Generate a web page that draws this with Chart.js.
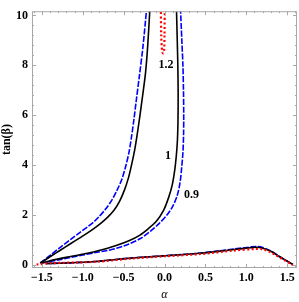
<!DOCTYPE html>
<html lang="en">
  <head>
    <meta charset="UTF-8" />
    <title>tan(beta) vs alpha</title>
    <script src="https://cdn.jsdelivr.net/npm/chart.js"></script>
    <style>
      html, body { margin: 0; padding: 0; background: #fff; }
      #wrap { width: 299px; height: 302px; }
    </style>
  </head>
  <body>
    <div id="wrap"><canvas id="plot"></canvas></div>
    <script>
      // tick labels
      const xTicks = [-1.5, -1, -0.5, 0, 0.5, 1, 1.5];
      const yTicks = [0, 2, 4, 6, 8, 10];

      // curves (alpha, tan beta)
      const blueUpperX = [-1.52, -1.45, -1.39, -1.27, -1.15, -1.04, -0.94, -0.86, -0.8, -0.72, -0.64, -0.58, -0.52, -0.475, -0.435, -0.405, -0.375, -0.345, -0.31, -0.265, -0.217];
      const blueUpperY = [0.08, 0.25, 0.41, 0.72, 1.02, 1.29, 1.53, 1.74, 1.94, 2.24, 2.62, 3.0, 3.45, 3.95, 4.5, 5.1, 5.8, 6.6, 7.5, 8.7, 10.3];
      const blackUpperX = [-1.52, -1.45, -1.39, -1.27, -1.15, -1.04, -0.94, -0.86, -0.78, -0.7, -0.62, -0.55, -0.49, -0.44, -0.4, -0.365, -0.335, -0.3, -0.265, -0.232, -0.205, -0.178];
      const blackUpperY = [0.08, 0.22, 0.35, 0.6, 0.85, 1.08, 1.29, 1.47, 1.67, 1.9, 2.18, 2.55, 3.0, 3.5, 4.05, 4.6, 5.2, 6.0, 6.85, 7.7, 8.8, 10.3];

      const blackRightX = [-1.5, -1.39, -1.15, -0.94, -0.8, -0.6, -0.435, -0.3, -0.2, -0.1, -0.01, 0.05, 0.094, 0.125, 0.145, 0.158, 0.165, 0.167, 0.163, 0.156, 0.146];
      const blackRightY = [0.08, 0.18, 0.34, 0.47, 0.58, 0.77, 0.97, 1.2, 1.45, 1.75, 2.2, 2.7, 3.2, 3.8, 4.4, 5.0, 5.8, 6.8, 8.0, 9.0, 10.3];
      const blueRightX = [-1.5, -1.3, -1.15, -1.0, -0.84, -0.7, -0.6, -0.5, -0.435, -0.3, -0.17, -0.07, 0.03, 0.1, 0.155, 0.19, 0.21, 0.225, 0.233, 0.235, 0.232, 0.225, 0.212, 0.195];
      const blueRightY = [0.08, 0.2, 0.3, 0.4, 0.5, 0.58, 0.66, 0.76, 0.84, 1.05, 1.36, 1.65, 2.0, 2.35, 2.78, 3.3, 3.9, 4.5, 5.2, 6.0, 7.0, 8.0, 9.0, 10.3];

      const redTopX = [-0.045, -0.04, -0.03, -0.018, -0.005, 0.0, 0.003];
      const redTopY = [10.3, 9.2, 8.6, 8.48, 8.6, 9.2, 10.3];

      const blackLowX = [-1.45, -1.2, -0.84, -0.44, 0, 0.44, 0.85, 1.05, 1.12, 1.2, 1.3, 1.41, 1.57];
      const blackLowY = [0.06, 0.08, 0.14, 0.27, 0.37, 0.47, 0.62, 0.69, 0.71, 0.67, 0.55, 0.33, 0.02];
      const blueLowX = [-1.45, -1.2, -0.84, -0.44, 0, 0.44, 0.85, 1.05, 1.12, 1.2, 1.3, 1.41, 1.57];
      const blueLowY = [0.06, 0.08, 0.14, 0.27, 0.37, 0.48, 0.64, 0.72, 0.74, 0.7, 0.56, 0.33, 0.02];
      const redLowX = [-1.565, -1.4, -0.84, -0.44, 0, 0.44, 0.85, 1.1, 1.2, 1.3, 1.41, 1.57];
      const redLowY = [0.02, 0.07, 0.13, 0.25, 0.35, 0.44, 0.58, 0.64, 0.63, 0.5, 0.3, 0.0];

      // curve labels
      const labelText = ["1.2", "1", "0.9"];
      const labelX = [0.018, 0.043, 0.33];
      const labelY = [8.0, 4.39, 2.8];

      function pts(xs, ys) {
        return xs.map((x, i) => ({ x: x, y: ys[i] }));
      }

      const tickFont = { family: "Liberation Serif", size: 12, weight: "bold" };
      const frameColor = "#a8a8a8";

      const red = { borderColor: "#ff0000", borderWidth: 2.2, borderDash: [2, 2.4] };
      const black = { borderColor: "#000000", borderWidth: 1.6 };
      const blue = { borderColor: "#0000ff", borderWidth: 1.6, borderDash: [6, 1.6] };

      // first dataset ends up on top
      const datasets = [
        Object.assign({ data: pts(redTopX, redTopY) }, red),
        Object.assign({ data: pts(redLowX, redLowY) }, red),
        Object.assign({ data: pts(blackLowX, blackLowY) }, black),
        Object.assign({ data: pts(blackUpperX, blackUpperY) }, black),
        Object.assign({ data: pts(blackRightX, blackRightY) }, black),
        Object.assign({ data: pts(blueLowX, blueLowY) }, blue),
        Object.assign({ data: pts(blueUpperX, blueUpperY) }, blue),
        Object.assign({ data: pts(blueRightX, blueRightY) }, blue),
      ];
      datasets.forEach((d) => {
        d.showLine = true;
        d.pointRadius = 0;
        d.tension = 0.3;
        d.fill = false;
      });

      const framePlugin = {
        id: "frame",
        afterDraw(chart) {
          const ctx = chart.ctx;
          const a = chart.chartArea;
          const xs = chart.scales.x;
          const ys = chart.scales.y;
          ctx.save();
          ctx.strokeStyle = frameColor;
          ctx.lineWidth = 1;
          ctx.strokeRect(a.left + 0.5, a.top + 0.5, a.right - a.left - 1, a.bottom - a.top - 1);
          // inward ticks on all four sides
          ctx.beginPath();
          for (let v = -1.6; v <= 1.6001; v += 0.1) {
            const px = Math.round(xs.getPixelForValue(v)) + 0.5;
            const major = xTicks.some((t) => Math.abs(t - v) < 1e-6);
            const len = major ? 4 : 2;
            ctx.moveTo(px, a.bottom);
            ctx.lineTo(px, a.bottom - len);
            ctx.moveTo(px, a.top);
            ctx.lineTo(px, a.top + len);
          }
          for (let v = 0; v <= 10.0001; v += 0.4) {
            const py = Math.round(ys.getPixelForValue(v)) + 0.5;
            const major = yTicks.some((t) => Math.abs(t - v) < 1e-6);
            const len = major ? 4 : 2;
            ctx.moveTo(a.left, py);
            ctx.lineTo(a.left + len, py);
            ctx.moveTo(a.right, py);
            ctx.lineTo(a.right - len, py);
          }
          ctx.stroke();
          // curve labels
          ctx.fillStyle = "#000";
          ctx.font = "bold 12px 'Liberation Serif'";
          ctx.textAlign = "center";
          ctx.textBaseline = "middle";
          labelText.forEach((t, i) => {
            ctx.fillText(t, xs.getPixelForValue(labelX[i]), ys.getPixelForValue(labelY[i]));
          });
          ctx.restore();
        },
      };

      new Chart(document.getElementById("plot"), {
        type: "scatter",
        data: { datasets: datasets },
        options: {
          responsive: true,
          maintainAspectRatio: false,
          animation: false,
          events: [],
          layout: { padding: { left: 0, right: 2, top: 3, bottom: 0 } },
          plugins: { legend: { display: false }, tooltip: { enabled: false } },
          scales: {
            x: {
              type: "linear",
              min: -1.62,
              max: 1.62,
              afterBuildTicks: (s) => { s.ticks = xTicks.map((v) => ({ value: v })); },
              afterFit: (s) => { s.height = 34; },
              grid: { display: false, drawTicks: false },
              border: { display: false },
              ticks: {
                color: "#000",
                font: tickFont,
                padding: 3,
                maxRotation: 0,
                callback: (v) => (v < 0 ? "\u2212" : "") + Math.abs(v).toFixed(1),
              },
              title: {
                display: true,
                text: "\u03b1",
                color: "#000",
                font: { family: "Liberation Serif", size: 12, style: "italic" },
                padding: 0,
              },
            },
            y: {
              type: "linear",
              min: -0.12,
              max: 10.17,
              afterBuildTicks: (s) => { s.ticks = yTicks.map((v) => ({ value: v })); },
              afterFit: (s) => { s.width = 32; },
              grid: { display: false, drawTicks: false },
              border: { display: false },
              ticks: { color: "#000", font: tickFont, padding: 4 },
              title: {
                display: true,
                text: "tan(\u03b2)",
                color: "#000",
                font: { family: "Liberation Serif", size: 12, weight: "bold" },
                padding: 0,
              },
            },
          },
        },
        plugins: [framePlugin],
      });
    </script>
  </body>
</html>
